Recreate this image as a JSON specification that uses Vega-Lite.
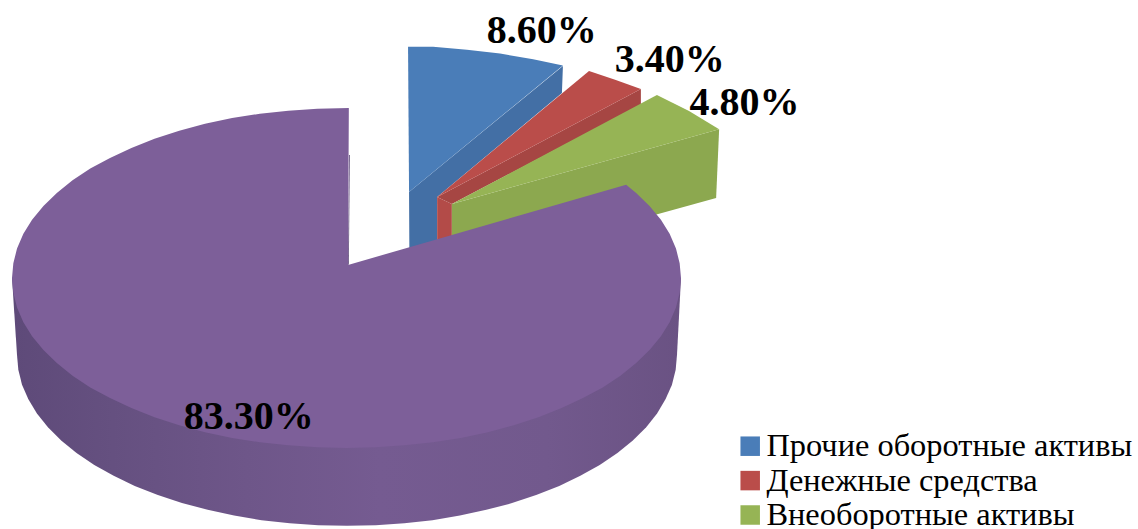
{
  "$schema": "https://vega.github.io/schema/vega-lite/v6.json",
  "width": 1138,
  "height": 529,
  "padding": 0,
  "autosize": "none",
  "background": "white",
  "view": {"stroke": null},
  "config": {"font": "Liberation Serif"},
  "projection": {"type": "identity", "reflectY": true, "scale": 3.345, "translate": [346.5, 278]},
  "datasets": {
    "faces": [
      {"type": "Feature", "name": "Прочие оборотные активы", "part": "wall", "geometry": {"type": "Polygon", "coordinates": [[[18.7,25.7],[64.7,63.4],[64.4,55.3],[27.1,24.2],[27.1,8.4],[18.8,6.9],[18.7,25.7]]]}},
      {"type": "Feature", "name": "Денежные средства", "part": "strip", "geometry": {"type": "Polygon", "coordinates": [[[27.1,24.2],[88.0,56.5],[88.0,51.7],[31.5,22.1],[27.1,24.2]]]}},
      {"type": "Feature", "name": "Денежные средства", "part": "band", "geometry": {"type": "Polygon", "coordinates": [[[27.1,24.2],[31.5,22.1],[31.5,8.4],[27.1,8.4],[27.1,24.2]]]}},
      {"type": "Feature", "name": "Внеоборотные активы", "part": "wall", "geometry": {"type": "Polygon", "coordinates": [[[31.5,22.1],[111.4,44.5],[110.5,23.9],[31.5,2.1],[31.5,22.1]]]}},
      {"type": "Feature", "name": "Запасы", "part": "inner", "geometry": {"type": "Polygon", "coordinates": [[[0.75,36.8],[1.0,36.8],[0.7,4.0],[0.45,3.9],[0.75,36.8]]]}},
      {"type": "Feature", "name": "Запасы", "part": "wall", "geometry": {"type": "Polygon", "coordinates": [[[100,0],[98.8,-23],[98.4,-27.5],[97.3,-31.9],[95.4,-36.2],[92.85,-40.5],[89.6,-44.6],[85.6,-48.6],[81,-52.3],[75.7,-55.9],[69.9,-59.1],[63.6,-62.2],[56.7,-64.9],[49.5,-67.3],[41.8,-69.3],[33.9,-71],[25.7,-72.4],[17.3,-73.3],[8.75,-73.9],[0.15,-74.1],[-8.45,-73.9],[-16.95,-73.3],[-25.4,-72.4],[-33.6,-71],[-41.5,-69.3],[-49.2,-67.3],[-56.4,-64.9],[-63.3,-62.2],[-69.6,-59.1],[-75.4,-55.9],[-80.7,-52.3],[-85.3,-48.6],[-89.25,-44.6],[-92.55,-40.5],[-95.15,-36.2],[-97,-31.9],[-98.1,-27.5],[-98.5,-23],[-100,0],[100,0]]]}},
      {"type": "Feature", "name": "Прочие оборотные активы", "part": "top", "geometry": {"type": "Polygon", "coordinates": [[[18.4,69.1],[25.9,69.1],[36.0,68.2],[45.9,67.1],[55.8,65.4],[64.7,63.5],[18.7,25.7],[18.4,69.1]]]}},
      {"type": "Feature", "name": "Денежные средства", "part": "top", "geometry": {"type": "Polygon", "coordinates": [[[27.1,24.2],[72.5,61.9],[80.3,59.3],[88.0,56.5],[27.1,24.2]]]}},
      {"type": "Feature", "name": "Внеоборотные активы", "part": "top", "geometry": {"type": "Polygon", "coordinates": [[[31.5,22.1],[92.8,54.7],[102.4,49.9],[111.4,44.5],[31.5,22.1]]]}},
      {"type": "Feature", "name": "Запасы", "part": "top", "geometry": {"type": "Polygon", "coordinates": [[[0.45,3.9],[83.6,27.9],[86.6,25.4],[90.6,21.5],[94.0,17.4],[96.6,13.2],[98.5,8.8],[99.6,4.4],[100,0],[99.6,-4.4],[98.5,-8.8],[96.6,-13.2],[94,-17.4],[90.6,-21.5],[86.6,-25.4],[81.9,-29.2],[76.6,-32.7],[70.7,-35.9],[64.3,-38.9],[57.4,-41.6],[50,-44],[42.3,-46.1],[34.2,-47.8],[25.9,-49.1],[17.4,-50],[8.7,-50.6],[0,-50.8],[-8.7,-50.6],[-17.4,-50],[-25.9,-49.1],[-34.2,-47.8],[-42.3,-46.1],[-50,-44],[-57.4,-41.6],[-64.3,-38.9],[-70.7,-35.9],[-76.6,-32.7],[-81.9,-29.2],[-86.6,-25.4],[-90.6,-21.5],[-94,-17.4],[-96.6,-13.2],[-98.5,-8.8],[-99.6,-4.4],[-100,0],[-99.6,4.4],[-98.5,8.8],[-96.6,13.2],[-94,17.4],[-90.6,21.5],[-86.6,25.4],[-81.9,29.2],[-76.6,32.7],[-70.7,35.9],[-64.3,38.9],[-57.4,41.6],[-50,44],[-42.3,46.1],[-34.2,47.8],[-25.9,49.1],[-17.4,50],[-8.7,50.6],[0.7,50.8],[0.45,3.9]]]}}
    ],
    "shares": [
      {"name": "Прочие оборотные активы", "share": 0.086, "lon": 58.4, "lat": 70.3},
      {"name": "Денежные средства", "share": 0.034, "lon": 96.6, "lat": 61.6},
      {"name": "Внеоборотные активы", "share": 0.048, "lon": 119.0, "lat": 48.7},
      {"name": "Запасы", "share": 0.833, "lon": -29.2, "lat": -45.1}
    ]
  },
  "layer": [
    {
      "data": {"name": "faces"},
      "transform": [{"filter": "datum.name === 'Прочие оборотные активы' && datum.part === 'wall'"}],
      "mark": {"type": "geoshape", "fill": "#436FA5", "stroke": null},
      "encoding": {}
    },
    {
      "data": {"name": "faces"},
      "transform": [{"filter": "datum.part === 'strip'"}],
      "mark": {"type": "geoshape", "fill": "#A64643", "stroke": null},
      "encoding": {}
    },
    {
      "data": {"name": "faces"},
      "transform": [{"filter": "datum.part === 'band'"}],
      "mark": {"type": "geoshape", "fill": "#B34B48", "stroke": null},
      "encoding": {}
    },
    {
      "data": {"name": "faces"},
      "transform": [{"filter": "datum.name === 'Внеоборотные активы' && datum.part === 'wall'"}],
      "mark": {"type": "geoshape", "fill": "#8CA84F", "stroke": null},
      "encoding": {}
    },
    {
      "data": {"name": "faces"},
      "transform": [{"filter": "datum.part === 'inner'"}],
      "mark": {"type": "geoshape", "fill": "#62507C", "stroke": null},
      "encoding": {}
    },
    {
      "data": {"name": "faces"},
      "transform": [{"filter": "datum.name === 'Запасы' && datum.part === 'wall'"}],
      "mark": {
        "type": "geoshape",
        "stroke": null,
        "fill": {
          "gradient": "linear", "x1": 0, "y1": 0, "x2": 1, "y2": 0,
          "stops": [
            {"offset": 0, "color": "#5E4A79"},
            {"offset": 0.15, "color": "#655080"},
            {"offset": 0.35, "color": "#6E5689"},
            {"offset": 0.55, "color": "#755B91"},
            {"offset": 0.8, "color": "#72598D"},
            {"offset": 1, "color": "#6A5283"}
          ]
        }
      },
      "encoding": {}
    },
    {
      "data": {"name": "faces"},
      "transform": [{"filter": "datum.part === 'top'"}],
      "mark": {"type": "geoshape", "stroke": null},
      "encoding": {
        "color": {
          "field": "name",
          "type": "nominal",
          "scale": {
            "domain": ["Прочие оборотные активы", "Денежные средства", "Внеоборотные активы", "Запасы"],
            "range": ["#4A7DB8", "#BA4D4A", "#96B455", "#7D5F99"]
          },
          "legend": {
            "title": null,
            "values": ["Прочие оборотные активы", "Денежные средства", "Внеоборотные активы"],
            "orient": "none",
            "legendX": 734,
            "legendY": 430,
            "symbolType": "square",
            "symbolSize": 380,
            "symbolStrokeWidth": 0,
            "labelFont": "Liberation Serif",
            "labelFontSize": 32.4,
            "labelColor": "#000000",
            "labelOffset": 0,
            "labelLimit": 420,
            "rowPadding": 1.4,
            "padding": 0
          }
        }
      }
    },
    {
      "data": {"name": "shares"},
      "mark": {"type": "text", "font": "Liberation Serif", "fontWeight": "bold", "fontSize": 40, "align": "center", "baseline": "alphabetic", "color": "#000000"},
      "encoding": {
        "longitude": {"field": "lon", "type": "quantitative"},
        "latitude": {"field": "lat", "type": "quantitative"},
        "text": {"field": "share", "type": "quantitative", "format": ".2%"}
      }
    }
  ]
}
